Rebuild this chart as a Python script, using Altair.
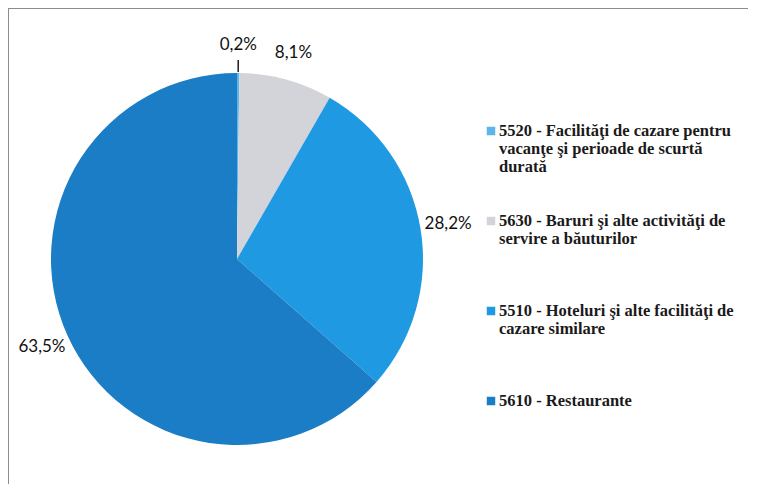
import altair as alt
import pandas as pd

# ---- data ----
categories = ["5520", "5630", "5510", "5610"]
legend_labels = [
    "5520 - Facilităţi de cazare pentru\nvacanţe şi perioade de scurtă\ndurată",
    "5630 - Baruri şi alte activităţi de\nservire a băuturilor",
    "5510 - Hoteluri şi alte facilităţi de\ncazare similare",
    "5610 - Restaurante",
]
shares = [0.2, 8.1, 28.2, 63.5]
colors = ["#5db5ea", "#d3d3da", "#1f9ae2", "#1b7dc5"]

df = pd.DataFrame({
    "cat": categories,
    "legend": legend_labels,
    "share": shares,
    "order": list(range(len(categories))),
})
df["label"] = [f"{v:.1f}".replace(".", ",") + "%" for v in shares]

W, H = 740, 476
CX, CY, R = 229, 251, 186

color = alt.Color("cat:N", scale=alt.Scale(domain=categories, range=colors), legend=None)
base = alt.Chart(df)

pie = base.mark_arc(outerRadius=R).encode(
    theta=alt.Theta("share:Q", stack=True),
    order=alt.Order("order:Q"),
    color=color,
    x=alt.value(CX),
    y=alt.value(CY),
)

labels = base.mark_text(radius=214, font="Lato", fontSize=17, color="#111111").encode(
    theta=alt.Theta("share:Q", stack=True),
    order=alt.Order("order:Q"),
    text="label:N",
    x=alt.value(CX),
    y=alt.value(CY),
)

leader = (
    base.transform_window(cum="sum(share)", sort=[alt.SortField("order")], frame=[None, 0])
    .transform_joinaggregate(total="sum(share)")
    .transform_calculate(
        mid="(datum.cum - datum.share / 2) / datum.total * 2 * PI",
        a0="datum.mid - 0.004",
        a1="datum.mid + 0.004",
    )
    .transform_filter("datum.share < 1")
    .mark_arc(innerRadius=R + 1, outerRadius=R + 13, color="#222222")
    .encode(
        theta=alt.Theta("a0:Q", scale=None),
        theta2="a1:Q",
        x=alt.value(CX),
        y=alt.value(CY),
    )
)

leg_y = alt.Y(
    "cat:N",
    scale=alt.Scale(type="point", domain=categories, range=[123, 393], padding=0),
    axis=None,
)
squares = base.mark_square(size=72, opacity=1).encode(
    x=alt.value(483), y=leg_y, color=color
)
texts = base.mark_text(
    align="left", baseline="top", dy=-8, lineBreak="\n",
    font="Liberation Serif", fontWeight="bold", fontSize=16.5, lineHeight=18,
    color="#1a1a1a",
).encode(x=alt.value(491), y=leg_y, text="legend:N")

frame_df = pd.DataFrame({"k": [0]})
frame_left = alt.Chart(frame_df).mark_rule(color="#8c8c8c", strokeWidth=1).encode(
    x=alt.value(0.5), y=alt.value(0), y2=alt.value(H)
)
frame_top = alt.Chart(frame_df).mark_rule(color="#8c8c8c", strokeWidth=1).encode(
    x=alt.value(0), x2=alt.value(W), y=alt.value(0.5)
)

chart = (
    alt.layer(frame_left, frame_top, pie, leader, labels, squares, texts)
    .resolve_scale(theta="independent")
    .properties(width=W, height=H, padding=0, autosize="none", background="white")
    .configure_view(stroke="transparent", strokeWidth=0)
)

chart.save("out.html", embed_options={"renderer": "svg", "actions": False})
